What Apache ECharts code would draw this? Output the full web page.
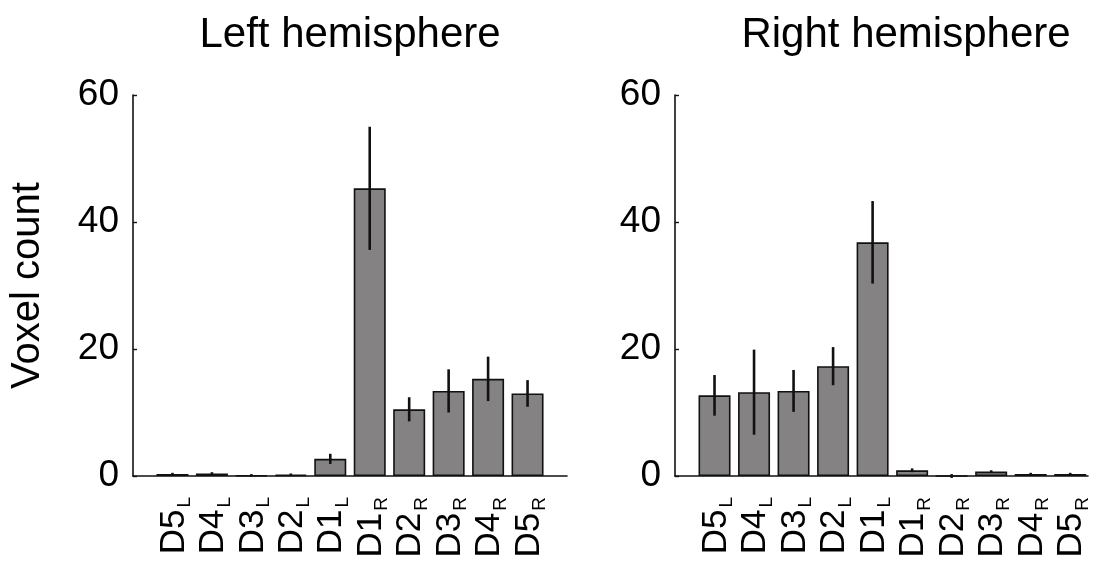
<!DOCTYPE html>
<html>
<head>
<meta charset="utf-8">
<script src="https://cdn.jsdelivr.net/npm/echarts@6/dist/echarts.min.js"></script>
<style>
html,body{margin:0;padding:0;background:#fff;}
#chart{width:1096px;height:561px;}
</style>
</head>
<body>
<div id="chart"></div>
<script>
// ---- data ----
var xLabelMain = ['D5','D4','D3','D2','D1','D1','D2','D3','D4','D5'];
var xLabelSub  = ['L','L','L','L','L','R','R','R','R','R'];
var yTicks = [0, 20, 40, 60];
var leftVals  = [0.3, 0.4, 0.1, 0.2, 2.7, 45.3, 10.5, 13.4, 15.3, 13.0];
var leftErr   = [0.2, 0.2, 0.2, 0.2, 0.8, 9.7, 1.9, 3.4, 3.5, 2.1];
var rightVals = [12.7, 13.2, 13.4, 17.3, 36.8, 0.9, 0.0, 0.7, 0.3, 0.3];
var rightErr  = [3.2, 6.7, 3.3, 3.0, 6.5, 0.3, 0.3, 0.2, 0.2, 0.2];
var titles = ['Left hemisphere', 'Right hemisphere'];
var yName = 'Voxel count';

var FONT = '"Liberation Sans", Arial, Helvetica, sans-serif';

function barData(vals){ return vals.map(function(v,i){ return [i+1, v]; }); }
function errData(vals, errs){ return vals.map(function(v,i){ return [i+1, v-errs[i], v+errs[i]]; }); }

function xAxis(gi, max){
  return {
    type:'value', gridIndex:gi, min:0, max:max, interval:1,
    axisLine:{show:true, onZero:false, lineStyle:{color:'#111', width:1.6}},
    axisTick:{show:false},
    splitLine:{show:false},
    axisLabel:{
      rotate:90, margin:21, color:'#000', fontFamily:FONT,
      showMinLabel:true, showMaxLabel:true,
      formatter:function(v){
        var i = Math.round(v)-1;
        if (i < 0 || i >= xLabelMain.length || Math.abs(v-Math.round(v))>1e-6) return '';
        return '{m|' + xLabelMain[i] + '}{s|' + xLabelSub[i] + '}';
      },
      rich:{
        m:{fontSize:35, lineHeight:32, verticalAlign:'top', fontFamily:FONT, color:'#000'},
        s:{fontSize:19, lineHeight:19, padding:[19,0,0,2], verticalAlign:'top', fontFamily:FONT, color:'#000'}
      }
    }
  };
}
function yAxis(gi, withName){
  var a = {
    type:'value', gridIndex:gi, min:0, max:60, interval:20,
    axisLine:{show:true, lineStyle:{color:'#111', width:1.6}},
    axisTick:{show:true, inside:true, length:4, lineStyle:{color:'#111', width:1.4}},
    splitLine:{show:false},
    axisLabel:{fontSize:37, color:'#000', fontFamily:FONT, margin:14,
      formatter:function(v){ return yTicks.indexOf(v) >= 0 ? String(v) : ''; }}
  };
  if (withName){
    a.name = yName; a.nameLocation='middle'; a.nameRotate=90; a.nameGap=85;
    a.nameTextStyle = {fontSize:40, color:'#000', fontFamily:FONT};
  }
  return a;
}
function errSeries(xi, vals, errs){
  return {
    type:'custom', xAxisIndex:xi, yAxisIndex:xi, z:5,
    data: errData(vals, errs),
    renderItem:function(params, api){
      var lo = api.coord([api.value(0), api.value(1)]);
      var hi = api.coord([api.value(0), api.value(2)]);
      return {type:'line', shape:{x1:lo[0], y1:lo[1], x2:hi[0], y2:hi[1]},
        style:{stroke:'#111', lineWidth:2.6}};
    }
  };
}
function barSeries(xi, vals){
  return {
    type:'bar', xAxisIndex:xi, yAxisIndex:xi, barWidth:32,
    data: barData(vals),
    itemStyle:{color:'#858283', borderColor:'#111', borderWidth:1.6},
    silent:true
  };
}

var chart = echarts.init(document.getElementById('chart'), null, {renderer:'canvas'});
chart.setOption({
  animation:false,
  backgroundColor:'#fff',
  title:[
    {text:titles[0], left:345, top:9, textAlign:'center',
     textStyle:{fontSize:42, fontWeight:'normal', color:'#000', fontFamily:FONT}},
    {text:titles[1], left:901, top:9, textAlign:'center',
     textStyle:{fontSize:42, fontWeight:'normal', color:'#000', fontFamily:FONT}}
  ],
  grid:[
    {left:133, top:95, width:434, height:381},
    {left:675, top:95, width:413, height:381}
  ],
  xAxis:[xAxis(0, 11), xAxis(1, 10.45)],
  yAxis:[yAxis(0, true), yAxis(1, false)],
  series:[
    barSeries(0, leftVals), errSeries(0, leftVals, leftErr),
    barSeries(1, rightVals), errSeries(1, rightVals, rightErr)
  ]
});
</script>
</body>
</html>
